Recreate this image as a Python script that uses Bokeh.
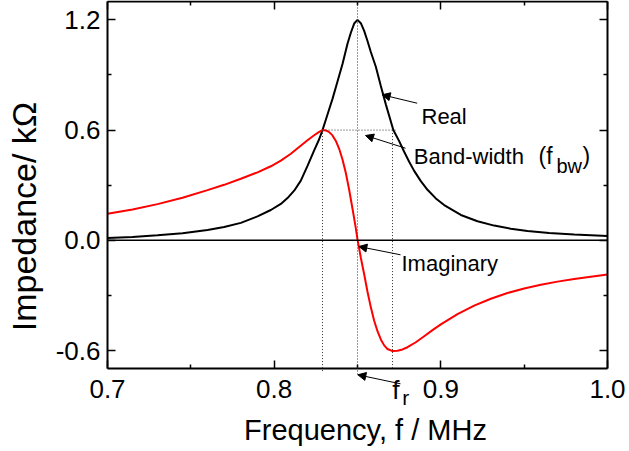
import math
from bokeh.plotting import figure
from bokeh.models import (Range1d, LinearAxis, FixedTicker, NumeralTickFormatter,
                          Arrow, NormalHead, Label, CustomLabelingPolicy)
from bokeh.embed import file_html
from bokeh.resources import INLINE

# ---------------- data ----------------
freq_real = [0.700, 0.715, 0.730, 0.745, 0.760, 0.770, 0.780, 0.790, 0.798, 0.804,
             0.808, 0.812, 0.816, 0.820, 0.824, 0.827, 0.829, 0.832, 0.835, 0.838,
             0.841, 0.844, 0.846, 0.848, 0.850, 0.852, 0.854, 0.856, 0.858, 0.861,
             0.864, 0.867, 0.8715, 0.875, 0.878, 0.881, 0.884, 0.888, 0.892, 0.897,
             0.902, 0.912, 0.922, 0.932, 0.942, 0.952, 0.965, 0.980, 1.000]
real_kohm = [0.012, 0.018, 0.027, 0.039, 0.056, 0.072, 0.095, 0.130, 0.165, 0.198,
             0.230, 0.270, 0.325, 0.405, 0.490, 0.550, 0.600, 0.685, 0.770, 0.865,
             0.960, 1.070, 1.130, 1.180, 1.200, 1.182, 1.140, 1.085, 1.025, 0.945,
             0.840, 0.740, 0.600, 0.540, 0.482, 0.428, 0.378, 0.322, 0.275, 0.228,
             0.192, 0.138, 0.104, 0.080, 0.063, 0.051, 0.040, 0.032, 0.024]

freq_imag = [0.700, 0.715, 0.730, 0.745, 0.760, 0.770, 0.780, 0.790, 0.798, 0.804,
             0.810, 0.815, 0.820, 0.824, 0.827, 0.829, 0.831, 0.833, 0.835, 0.837,
             0.839, 0.841, 0.843, 0.845, 0.847, 0.849, 0.850, 0.852, 0.854, 0.856,
             0.858, 0.860, 0.862, 0.864, 0.866, 0.868, 0.871, 0.874, 0.877, 0.880,
             0.885, 0.890, 0.895, 0.900, 0.910, 0.920, 0.930, 0.940, 0.950, 0.960,
             0.970, 0.980, 0.990, 1.000]
imag_kohm = [0.145, 0.168, 0.197, 0.232, 0.273, 0.302, 0.335, 0.370, 0.403, 0.434,
             0.471, 0.508, 0.545, 0.572, 0.590, 0.600, 0.598, 0.589, 0.571, 0.541,
             0.498, 0.440, 0.366, 0.275, 0.172, 0.065, 0.005, -0.095, -0.185, -0.280,
             -0.365, -0.438, -0.495, -0.540, -0.572, -0.592, -0.603, -0.601, -0.594, -0.582,
             -0.555, -0.522, -0.489, -0.458, -0.402, -0.356, -0.318, -0.287, -0.262, -0.242,
             -0.225, -0.211, -0.198, -0.186]

x_major = [0.7, 0.8, 0.9, 1.0]
x_minor = [0.75, 0.85, 0.95]
y_major = [-0.6, 0.0, 0.6, 1.2]
y_minor = [-0.3, 0.3, 0.9]

f_res = 0.85      # resonance frequency
f_low = 0.829     # lower band edge
f_high = 0.871    # upper band edge
half_level = 0.6  # band-width level

# ---------------- layout ----------------
FONT = "Liberation Sans"
X_LO, X_HI = 0.7, 1.0          # plotted box, frequency
Y_LO, Y_TOP = -0.7, 1.3        # plotted box, impedance
# the whole canvas is the frame; the box above sits inside it
x_range = Range1d(0.6358, 1.0132)
y_range = Range1d(-1.1497, 1.3054)

p = figure(width=629, height=451, x_range=x_range, y_range=y_range,
           output_backend="svg", toolbar_location=None,
           min_border_left=0, min_border_right=0, min_border_top=0, min_border_bottom=0)
p.outline_line_color = None
p.xgrid.visible = False
p.ygrid.visible = False
p.background_fill_color = "white"
p.border_fill_color = "white"


def style_axis(ax, ticks, minors, loc, bounds, labels=True):
    ax.fixed_location = loc
    ax.bounds = bounds
    ax.axis_label = None
    ax.ticker = FixedTicker(ticks=ticks, minor_ticks=minors)
    ax.formatter = NumeralTickFormatter(format="0.0")
    ax.axis_line_width = 2
    ax.axis_line_color = "black"
    ax.major_tick_in = 8
    ax.major_tick_out = 0
    ax.minor_tick_in = 4
    ax.minor_tick_out = 0
    ax.major_tick_line_width = 1.5
    ax.minor_tick_line_width = 1.5
    ax.major_tick_line_color = "black"
    ax.minor_tick_line_color = "black"
    ax.major_label_text_font = FONT
    ax.major_label_text_font_size = "26px"
    ax.major_label_text_color = "black"
    if not labels:
        ax.major_label_policy = CustomLabelingPolicy(
            code="for (const i of indices) indices.unset(i)")


style_axis(p.xaxis[0], x_major, x_minor, Y_LO, (X_LO, X_HI))
p.xaxis[0].major_label_standoff = 11
style_axis(p.yaxis[0], y_major, y_minor, X_LO, (Y_LO, Y_TOP))
p.yaxis[0].major_label_standoff = 7

top_ax = LinearAxis()
style_axis(top_ax, x_major, x_minor, Y_TOP, (X_LO, X_HI), labels=False)
p.add_layout(top_ax, "above")
right_ax = LinearAxis()
style_axis(right_ax, y_major, y_minor, X_HI, (Y_LO, Y_TOP), labels=False)
p.add_layout(right_ax, "right")

# axis titles
p.add_layout(Label(x=0.8548, y=-1.0310, text="Frequency, f / MHz", text_font=FONT,
                   text_font_size="29px", text_color="black", text_align="center",
                   text_baseline="alphabetic"))
p.add_layout(Label(x=0.6496, y=0.1296, text="Impedance/ kΩ", text_font=FONT,
                   text_font_size="34px", text_color="black", text_align="center",
                   text_baseline="alphabetic", angle=math.pi / 2))

# zero line across the box
p.add_layout(Arrow(x_start=X_LO, y_start=0.0, x_end=X_HI, y_end=0.0,
                   line_color="black", line_width=1.5, end=None))

# dotted guide lines
dot = dict(line_color="#333333", line_width=1, line_dash="1 2", end=None)
p.add_layout(Arrow(x_start=f_res, y_start=Y_TOP, x_end=f_res, y_end=-0.7305, **dot))
p.add_layout(Arrow(x_start=f_low, y_start=half_level, x_end=f_low, y_end=-0.7142, **dot))
p.add_layout(Arrow(x_start=f_high, y_start=half_level, x_end=f_high, y_end=Y_LO, **dot))
p.add_layout(Arrow(x_start=f_low, y_start=half_level, x_end=f_high + 0.002,
                   y_end=half_level, **dot))

# curves
p.line(freq_real, real_kohm, line_color="black", line_width=2)
p.line(freq_imag, imag_kohm, line_color="#ff0000", line_width=2)


def arrow(xs, ys, xe, ye):
    p.add_layout(Arrow(x_start=xs, y_start=ys, x_end=xe, y_end=ye, line_width=1,
                       line_color="black",
                       end=NormalHead(size=8, fill_color="black", line_color="black")))


def label(x, y, text, size="22px"):
    p.add_layout(Label(x=x, y=y, text=text, text_font=FONT, text_font_size=size,
                       text_color="black", text_baseline="alphabetic"))


arrow(0.8858, 0.7463, 0.8648, 0.7921)
label(0.8884, 0.6723, "Real")

arrow(0.8788, 0.5014, 0.8548, 0.5705)
label(0.8838, 0.4562, "Band-width")
label(0.9586, 0.4584, "(f", "23px")
label(0.9694, 0.4056, "bw", "20px")
label(0.9850, 0.4584, ")", "23px")

arrow(0.8758, -0.0789, 0.8508, -0.0338)
label(0.8764, -0.1263, "Imaginary")

arrow(0.8758, -0.7812, 0.8502, -0.7322)
label(0.8708, -0.8160, "f", "26px")
label(0.8768, -0.8574, "r", "21px")

open("out.html", "w").write(file_html(p, INLINE))
